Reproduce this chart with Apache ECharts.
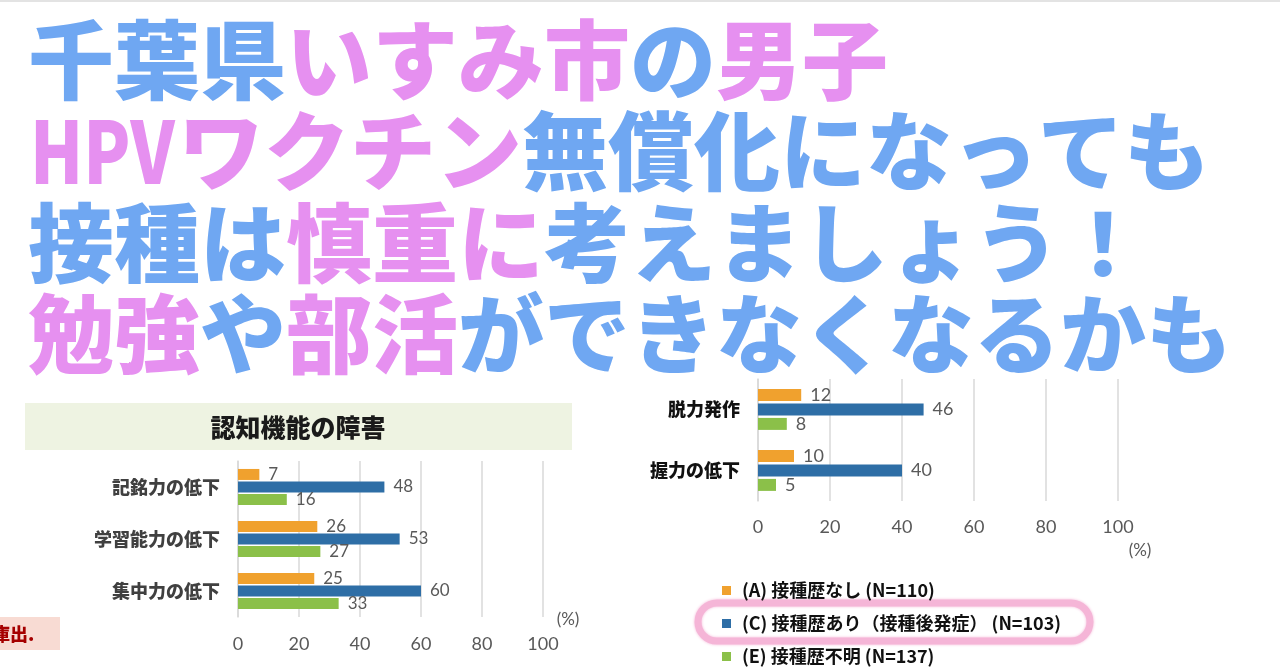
<!DOCTYPE html>
<html>
<head>
<meta charset="utf-8">
<title>認知機能の障害</title>
<script src="https://cdn.jsdelivr.net/npm/echarts@6/dist/echarts.min.js"></script>
<style>
    html, body { margin: 0; padding: 0; background: #fff; }
    #main { width: 1280px; height: 670px; }
</style>
</head>
<body>
<div id="main"></div>
<script>
//データ
var leftCategories = ['記銘力の低下', '学習能力の低下', '集中力の低下'];
var leftA = [7, 26, 25];
var leftC = [48, 53, 60];
var leftE = [16, 27, 33];

var rightCategories = ['脱力発作', '握力の低下'];
var rightA = [12, 10];
var rightC = [46, 40];
var rightE = [8, 5];

var xTicks = [0, 20, 40, 60, 80, 100];
var groupNames = ['(A) 接種歴なし (N=110)', '(C) 接種歴あり（接種後発症） (N=103)', '(E) 接種歴不明 (N=137)'];
var groupColors = ['#f0a12e', '#2e6ea6', '#8bc049'];

var BLUE = '#6fa7f2';
var PINK = '#e690f0';
var JP = '"Noto Sans CJK JP", "Noto Sans CJK SC", sans-serif';

//見出しの1行
function headLine(x, y, text, scaleX) {
    return {
        type: 'text',
        x: x,
        y: y,
        z: 10,
        scaleX: scaleX || 1,
        style: {
            text: text,
            verticalAlign: 'middle',
            rich: {
                b: { fill: BLUE, fontSize: 86, fontWeight: 900, fontFamily: JP },
                p: { fill: PINK, fontSize: 86, fontWeight: 900, fontFamily: JP }
            }
        }
    };
}

//X軸の設定
function valueAxis(gridIndex) {
    return {
        type: 'value',
        gridIndex: gridIndex,
        min: xTicks[0],
        max: xTicks[xTicks.length - 1],
        interval: xTicks[1] - xTicks[0],
        axisLine: { show: false },
        axisTick: { show: false },
        axisLabel: {
            color: '#595959',
            fontSize: 18,
            fontFamily: 'Lato, sans-serif',
            margin: gridIndex == 0 ? 18 : 17
        },
        splitLine: { show: true, lineStyle: { color: '#d9d9d9', width: 1.5 } }
    };
}

//Y軸の設定
function categoryAxis(gridIndex, data, color) {
    return {
        type: 'category',
        gridIndex: gridIndex,
        data: data,
        inverse: true,
        axisLine: { show: true, lineStyle: { color: '#d9d9d9', width: 1.5 } },
        axisTick: { show: false },
        axisLabel: {
            color: color,
            fontSize: 18,
            fontWeight: 900,
            fontFamily: JP,
            margin: 18
        }
    };
}

//系列の設定
function barSeries(gridIndex, values, k, barWidth, barGap, fontSize) {
    return {
        type: 'bar',
        name: groupNames[k],
        xAxisIndex: gridIndex,
        yAxisIndex: gridIndex,
        data: values,
        barWidth: barWidth,
        barGap: barGap,
        itemStyle: { color: groupColors[k] },
        label: {
            show: true,
            position: 'right',
            distance: 9,
            color: '#595959',
            fontSize: fontSize,
            fontFamily: 'Lato, sans-serif'
        }
    };
}

var myChart = echarts.init(document.getElementById('main'));
var option = {
    backgroundColor: '#ffffff',
    animation: false,
    grid: [
        { left: 238, top: 461, width: 305, height: 156 },
        { left: 758, top: 379, width: 360, height: 122 }
    ],
    xAxis: [valueAxis(0), valueAxis(1)],
    yAxis: [
        categoryAxis(0, leftCategories, '#404040'),
        categoryAxis(1, rightCategories, '#111111')
    ],
    legend: {
        orient: 'vertical',
        left: 722,
        top: 580,
        padding: 0,
        height: 90,
        icon: 'rect',
        itemWidth: 9,
        itemHeight: 9,
        itemGap: 12,
        selectedMode: false,
        data: groupNames,
        textStyle: {
            color: '#111',
            fontSize: 18,
            fontWeight: 'bold',
            fontFamily: JP,
            lineHeight: 21,
            padding: [0, 0, 0, 6]
        }
    },
    series: [
        barSeries(0, leftA, 0, 11, '14%', 17),
        barSeries(0, leftC, 1, 11, '14%', 17),
        barSeries(0, leftE, 2, 11, '14%', 17),
        barSeries(1, rightA, 0, 12, '20%', 18),
        barSeries(1, rightC, 1, 12, '20%', 18),
        barSeries(1, rightE, 2, 12, '20%', 18)
    ],
    graphic: [
        //上の枠線
        { type: 'rect', shape: { x: 0, y: 0, width: 1280, height: 2 }, style: { fill: '#e3e3e3' } },
        headLine(28, 60, '{b|千葉県}{p|いすみ市}{b|の}{p|男子}'),
        headLine(30, 151, '{p|HPV}', 0.8),
        headLine(178, 151, '{p|ワクチン}{b|無償化になっても}'),
        headLine(28, 243, '{b|接種は}{p|慎重に}{b|考えましょう！}'),
        headLine(28, 334, '{p|勉強}{b|や}{p|部活}{b|ができなくなるかも}'),
        //左のタイトル
        { type: 'rect', shape: { x: 25, y: 403, width: 547, height: 47 }, style: { fill: '#eef3e2' } },
        {
            type: 'text', x: 298, y: 427,
            style: { text: '認知機能の障害', align: 'center', verticalAlign: 'middle', fill: '#1a1a1a', fontSize: 25, fontWeight: 900, fontFamily: JP }
        },
        { type: 'text', x: 568, y: 620, style: { text: '(%)', align: 'center', verticalAlign: 'middle', fill: '#595959', fontSize: 17, fontFamily: 'Lato, sans-serif' } },
        { type: 'text', x: 1140, y: 551, style: { text: '(%)', align: 'center', verticalAlign: 'middle', fill: '#595959', fontSize: 17, fontFamily: 'Lato, sans-serif' } },
        //出典の切れ端
        { type: 'rect', shape: { x: 0, y: 617, width: 60, height: 33 }, style: { fill: '#f8dbd3' } },
        { type: 'text', x: -8, y: 634, style: { text: '庫出.', verticalAlign: 'middle', fill: '#a50000', fontSize: 18, fontWeight: 900, fontFamily: JP } },
        //ピンクの囲み
        {
            type: 'rect', z: -1,
            shape: { x: 698, y: 603, width: 392, height: 38, r: 19 },
            style: { fill: 'none', stroke: '#f5b5d7', lineWidth: 7, shadowBlur: 3, shadowColor: '#f5b5d7' }
        }
    ]
};
myChart.setOption(option);
</script>
</body>
</html>
